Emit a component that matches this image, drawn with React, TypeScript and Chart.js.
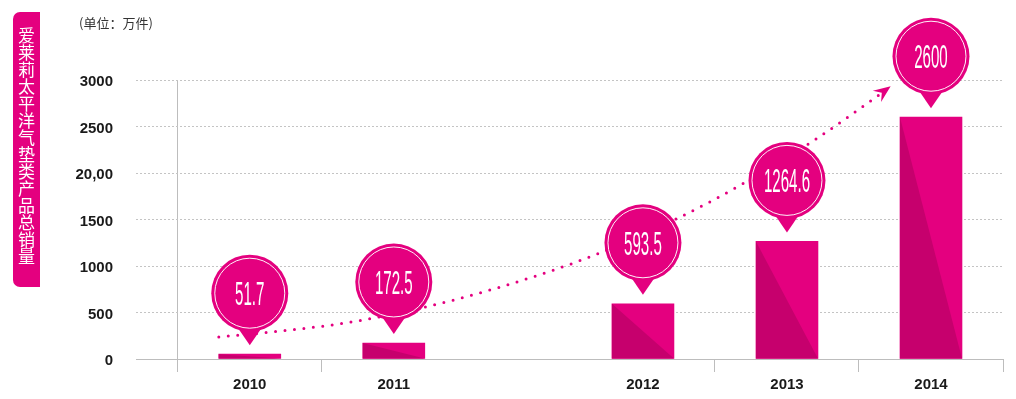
import { useEffect, useRef } from 'react';
import { Chart, registerables } from 'chart.js';

Chart.register(...registerables);

// ---- data ----
const categories = ['2010', '2011', '2012', '2013', '2014'];
const sales = [51.7, 172.5, 593.5, 1264.6, 2600];
const yTickValues = [0, 500, 1000, 1500, 2000, 2500, 3000];
const yTickLabels = ['0', '500', '1000', '1500', '20,00', '2500', '3000'];
// dotted growth arrow: position along the year axis (in year-slot widths) and value
const trendPos = [0.285, 0.78, 1.25, 1.89, 2.505, 2.93, 3.46, 3.92, 4.41, 4.83, 4.95];
const trendValues = [237, 312, 409, 624, 903, 1140, 1505, 1882, 2344, 2796, 2932];
const sideTitle = '爱莱莉太平洋气垫类产品总销量';
const unitLabel = '(单位：万件)';

// ---- layout / style ----
const PINK = '#e4007f';
const DARK = '#c6006d';
const GRID = '#c4c4c4';
const AXIS = '#bdbdbd';
const GAP = 0.73; // extra space between 2011 and 2012
const X_MIN = -0.29;
const X_MAX = 5 + GAP;
const slotCenter = (i: number) => i + 0.5 + (i >= 2 ? GAP : 0);
const centerTicks = categories.map((_, i) => slotCenter(i));
const boundaryTicks = [0, 1, 3 + GAP, 4 + GAP, 5 + GAP];
const near = (a: number, b: number) => Math.abs(a - b) < 1e-6;

const decorPlugin = {
  id: 'decor',
  afterDatasetDraw(chart: any, args: any) {
    if (args.index !== 0) return;
    const ctx = chart.ctx;
    ctx.save();
    ctx.fillStyle = DARK;
    args.meta.data.forEach((bar: any) => {
      const { x, y, base, width } = bar.getProps(['x', 'y', 'base', 'width'], true);
      const l = x - width / 2;
      const r = x + width / 2;
      ctx.beginPath();
      ctx.moveTo(l, y);
      ctx.lineTo(l, base);
      ctx.lineTo(r, base);
      ctx.closePath();
      ctx.fill();
    });
    ctx.restore();
  },
  afterDatasetsDraw(chart: any) {
    const ctx = chart.ctx;
    // arrow head at the end of the trend line
    const pts = chart.getDatasetMeta(1).data;
    const a = pts[pts.length - 2];
    const b = pts[pts.length - 1];
    const ang = Math.atan2(b.y - a.y, b.x - a.x);
    ctx.save();
    ctx.translate(b.x, b.y);
    ctx.rotate(ang);
    ctx.beginPath();
    ctx.moveTo(0, 0);
    ctx.lineTo(-17, -7);
    ctx.lineTo(-11, 0);
    ctx.lineTo(-17, 7);
    ctx.closePath();
    ctx.fillStyle = PINK;
    ctx.fill();
    ctx.restore();

    // value bubbles
    const bars = chart.getDatasetMeta(0).data;
    bars.forEach((bar: any, i: number) => {
      const { x, y } = bar.getProps(['x', 'y'], true);
      const tipY = y - 9;
      const cy = tipY - 52;
      const r = 38.5;
      ctx.save();
      ctx.fillStyle = PINK;
      ctx.beginPath();
      ctx.moveTo(x - 13, cy + 33);
      ctx.lineTo(x + 13, cy + 33);
      ctx.lineTo(x, tipY);
      ctx.closePath();
      ctx.fill();
      ctx.beginPath();
      ctx.arc(x, cy, r, 0, Math.PI * 2);
      ctx.fill();
      ctx.strokeStyle = 'rgba(255,255,255,0.95)';
      ctx.lineWidth = 1;
      ctx.beginPath();
      ctx.arc(x, cy, r - 3.5, 0, Math.PI * 2);
      ctx.stroke();
      const fs = 33.5;
      ctx.fillStyle = '#ffffff';
      ctx.font = `${fs}px Arial, "Liberation Sans", sans-serif`;
      ctx.textAlign = 'center';
      ctx.textBaseline = 'alphabetic';
      ctx.translate(x, cy + 0.358 * fs);
      ctx.scale(0.45, 1);
      ctx.fillText(String(sales[i]), 0, 0);
      ctx.restore();
    });
  },
};

export default function App() {
  const canvasRef = useRef<HTMLCanvasElement | null>(null);

  useEffect(() => {
    if (!canvasRef.current) return;
    const tickFont = { family: 'Arial, "Liberation Sans", sans-serif', size: 15, weight: 'bold' };
    const chart = new Chart(canvasRef.current, {
      type: 'bar',
      data: {
        datasets: [
          {
            type: 'bar',
            label: '销量',
            data: categories.map((_, i) => ({ x: slotCenter(i), y: sales[i] })),
            backgroundColor: PINK,
            borderWidth: 0,
            barThickness: 62,
            order: 0,
          } as any,
          {
            type: 'line',
            label: 'trend',
            data: trendPos.map((p, i) => ({ x: p, y: trendValues[i] })),
            borderColor: PINK,
            borderWidth: 3,
            borderDash: [0, 9.5],
            borderCapStyle: 'round',
            cubicInterpolationMode: 'monotone',
            pointRadius: 0,
            pointHoverRadius: 0,
            fill: false,
            order: 1,
          } as any,
        ],
      },
      options: {
        animation: false,
        responsive: false,
        events: [],
        layout: { padding: { left: 56, top: 80, right: 13, bottom: 0 } },
        plugins: {
          legend: { display: false },
          tooltip: { enabled: false },
          title: { display: false },
        },
        scales: {
          x: {
            type: 'linear',
            min: X_MIN,
            max: X_MAX,
            offset: false,
            afterBuildTicks: (axis: any) => {
              axis.ticks = [...boundaryTicks, ...centerTicks]
                .sort((p, q) => p - q)
                .map((v) => ({ value: v }));
            },
            afterFit: (scale: any) => {
              scale.height = 40;
            },
            ticks: {
              autoSkip: false,
              maxRotation: 0,
              minRotation: 0,
              padding: 4,
              color: '#1a1a1a',
              font: tickFont,
              callback: (value: any) => {
                const idx = centerTicks.findIndex((c) => near(c, Number(value)));
                return idx >= 0 ? categories[idx] : '';
              },
            },
            grid: {
              offset: false,
              drawOnChartArea: true,
              drawTicks: true,
              tickLength: 13,
              lineWidth: 1,
              color: (ctx: any) => (ctx.tick && near(ctx.tick.value, 0) ? AXIS : 'rgba(0,0,0,0)'),
              tickColor: (ctx: any) =>
                ctx.tick && boundaryTicks.some((b) => near(b, ctx.tick.value)) ? AXIS : 'rgba(0,0,0,0)',
            },
            border: { display: true, color: AXIS, width: 1 },
          },
          y: {
            type: 'linear',
            min: 0,
            max: 3000,
            afterBuildTicks: (axis: any) => {
              axis.ticks = yTickValues.map((v) => ({ value: v }));
            },
            afterFit: (scale: any) => {
              scale.width = 80;
            },
            ticks: {
              padding: 23,
              color: '#1a1a1a',
              font: tickFont,
              labelOffset: 2,
              callback: (value: any) => {
                const idx = yTickValues.indexOf(Number(value));
                return idx >= 0 ? yTickLabels[idx] : '';
              },
            },
            grid: {
              drawTicks: false,
              lineWidth: 1,
              color: (ctx: any) => (ctx.tick && ctx.tick.value === 0 ? 'rgba(0,0,0,0)' : GRID),
            },
            border: { display: false, dash: [2, 2] },
          },
        },
      } as any,
      plugins: [decorPlugin],
    });
    return () => chart.destroy();
  }, []);

  return (
    <div
      style={{
        position: 'fixed',
        left: 0,
        top: 0,
        width: 1016,
        height: 399,
        background: '#fff',
        overflow: 'hidden',
      }}
    >
      <canvas
        ref={canvasRef}
        width={1016}
        height={399}
        style={{ position: 'absolute', left: 0, top: 0, width: 1016, height: 399 }}
      />
      <div
        style={{
          position: 'absolute',
          left: 13,
          top: 12,
          width: 27,
          height: 275,
          boxSizing: 'border-box',
          paddingTop: 15,
          background: PINK,
          borderRadius: '7px 0 0 7px',
          color: '#fff',
          writingMode: 'vertical-rl',
          fontFamily: '"Noto Sans CJK SC", sans-serif',
          fontSize: 17,
          lineHeight: '27px',
        }}
      >
        {sideTitle}
      </div>
      <div
        style={{
          position: 'absolute',
          left: 79,
          top: 14,
          fontFamily: '"Noto Sans CJK SC", sans-serif',
          fontSize: 13,
          lineHeight: '18px',
          color: '#333',
          whiteSpace: 'nowrap',
        }}
      >
        {unitLabel}
      </div>
    </div>
  );
}
